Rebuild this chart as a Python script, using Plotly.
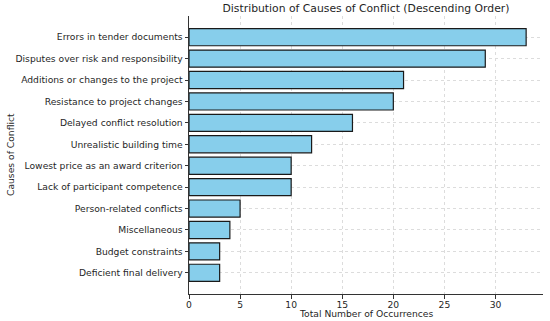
import plotly.graph_objects as go

causes = [
    "Errors in tender documents",
    "Disputes over risk and responsibility",
    "Additions or changes to the project",
    "Resistance to project changes",
    "Delayed conflict resolution",
    "Unrealistic building time",
    "Lowest price as an award criterion",
    "Lack of participant competence",
    "Person-related conflicts",
    "Miscellaneous",
    "Budget constraints",
    "Deficient final delivery",
]
counts = [33, 29, 21, 20, 16, 12, 10, 10, 5, 4, 3, 3]
x_ticks = [0, 5, 10, 15, 20, 25, 30]

font = "DejaVu Sans"
txt = "#1f1f1f"

fig = go.Figure(go.Bar(
    x=counts, y=causes, orientation="h", width=0.8,
    marker=dict(color="#87CEEB", line=dict(color="#1a1a1a", width=1.2)),
))

n = len(causes)
fig.update_layout(
    width=550, height=321,
    margin=dict(l=189, r=7, t=16, b=27),
    paper_bgcolor="white", plot_bgcolor="white",
    showlegend=False,
    font=dict(family=font, size=9.2, color=txt),
    title=dict(text="Distribution of Causes of Conflict (Descending Order)",
               x=(189 + 543) / 2 / 550, xanchor="center", y=1 - 8 / 321, yanchor="middle",
               font=dict(size=10.8, color=txt)),
    xaxis=dict(range=[0, 34.65], tickvals=x_ticks, showgrid=True, automargin=False,
               gridcolor="#dcdcdc", griddash="dot", gridwidth=0.8,
               showline=True, linecolor="#333333", linewidth=1,
               ticks="outside", ticklen=3.5, tickcolor="#333333",
               zeroline=False, ticklabelstandoff=-2),
    yaxis=dict(range=[n - 1 + 0.99, -0.99], categoryorder="array", categoryarray=causes,
               automargin=False,
               showgrid=True, gridcolor="#dcdcdc", griddash="dot", gridwidth=0.8,
               showline=True, linecolor="#333333", linewidth=1,
               ticks="outside", ticklen=3.5, tickcolor="#333333"),
    annotations=[
        dict(text="Total Number of Occurrences", xref="paper", yref="paper",
             x=0.5, y=-19 / 278, xanchor="center", yanchor="middle", showarrow=False,
             font=dict(size=9.2, color=txt)),
        dict(text="Causes of Conflict", xref="paper", yref="paper",
             x=-179 / 354, y=0.5, xanchor="center", yanchor="middle", showarrow=False,
             textangle=-90, font=dict(size=9.2, color=txt)),
    ],
)

fig.write_html("out.html", config={"displayModeBar": False},
               post_script="document.body.style.margin='0';document.body.style.overflow='hidden';")
